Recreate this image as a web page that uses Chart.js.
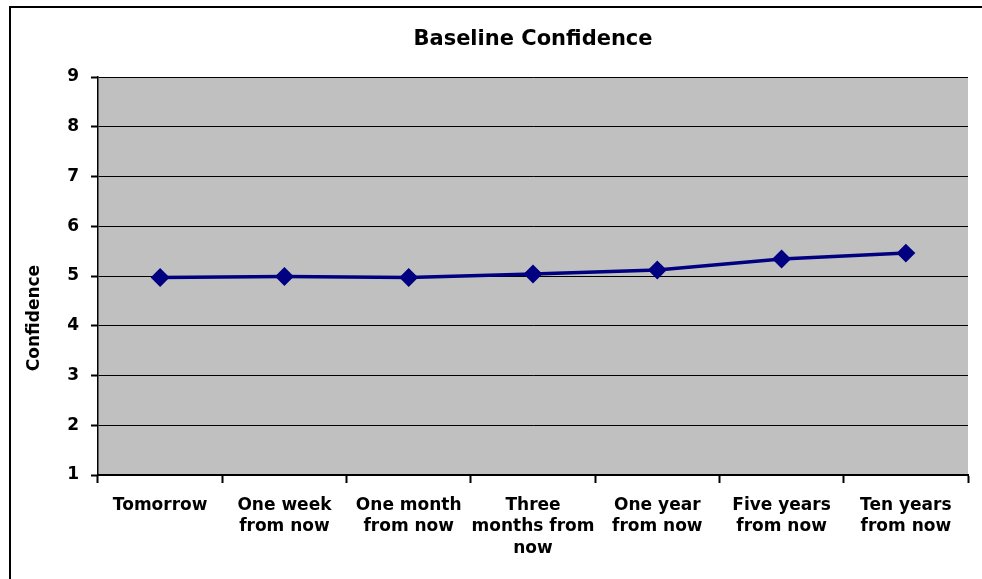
<!DOCTYPE html>
<html>
<head>
<meta charset="utf-8">
<script src="https://cdn.jsdelivr.net/npm/chart.js@4.4.0/dist/chart.umd.min.js"></script>
<style>
html,body{margin:0;padding:0;background:#fff;}
#wrap{position:relative;width:982px;height:579px;}
</style>
</head>
<body>
<div id="wrap"><canvas id="c" width="982" height="579"></canvas></div>
<script>
const categories = [
  "Tomorrow",
  ["One week", "from now"],
  ["One month", "from now"],
  ["Three", "months from", "now"],
  ["One year", "from now"],
  ["Five years", "from now"],
  ["Ten years", "from now"]
];
const confidence = [4.97, 4.99, 4.97, 5.04, 5.12, 5.34, 5.46];
const yMin = 1, yMax = 9, yStep = 1;
const chartTitle = "Baseline Confidence";
const yTitle = "Confidence";

const FONT = "'DejaVu Sans', sans-serif";

const framePlugin = {
  id: 'frame',
  beforeDraw(chart) {
    const {ctx, chartArea} = chart;
    ctx.save();
    ctx.fillStyle = '#ffffff';
    ctx.fillRect(0, 0, chart.width, chart.height);
    ctx.fillStyle = '#c0c0c0';
    ctx.fillRect(chartArea.left, chartArea.top, chartArea.right - chartArea.left, chartArea.bottom - chartArea.top);
    ctx.restore();
  },
  afterDraw(chart) {
    const {ctx} = chart;
    ctx.save();
    ctx.strokeStyle = '#000';
    ctx.lineWidth = 2;
    ctx.beginPath();
    ctx.moveTo(10, chart.height);
    ctx.lineTo(10, 7);
    ctx.lineTo(chart.width, 7);
    ctx.stroke();
    // y-axis title (placed lower than centre, as in the original)
    ctx.translate(35, 318);
    ctx.rotate(-Math.PI / 2);
    ctx.fillStyle = '#000';
    ctx.font = "bold 17px " + FONT;
    ctx.textAlign = 'center';
    ctx.textBaseline = 'middle';
    ctx.fillText(yTitle, 0, 0);
    ctx.restore();
  }
};

new Chart(document.getElementById('c'), {
  type: 'line',
  data: {
    labels: categories,
    datasets: [{
      data: confidence,
      borderColor: '#000080',
      backgroundColor: '#000080',
      borderWidth: 3.5,
      pointStyle: 'rectRot',
      pointRadius: 7,
      pointHoverRadius: 7,
      pointBackgroundColor: '#000080',
      pointBorderColor: '#000080',
      tension: 0,
      fill: false
    }]
  },
  options: {
    responsive: false,
    animation: false,
    devicePixelRatio: 1,
    layout: { padding: { left: 25, right: 14, top: 0, bottom: 0 } },
    plugins: {
      legend: { display: false },
      tooltip: { enabled: false },
      title: {
        display: true,
        fullSize: false,
        text: chartTitle,
        color: '#000',
        font: { family: FONT, size: 21, weight: 'bold', lineHeight: 1.2 },
        padding: { top: 27, bottom: 24.8 }
      }
    },
    scales: {
      x: {
        type: 'category',
        offset: true,
        grid: {
          offset: true,
          drawOnChartArea: false,
          drawTicks: true,
          tickLength: 8,
          tickColor: '#000',
          tickWidth: 2
        },
        border: { display: true, color: '#000', width: 2 },
        ticks: {
          color: '#000',
          font: { family: FONT, size: 17, weight: 'bold', lineHeight: 1.25 },
          padding: 12,
          maxRotation: 0,
          autoSkip: false
        },
        afterFit(scale) { scale.height = 104; }
      },
      y: {
        min: yMin,
        max: yMax,
        ticks: {
          stepSize: yStep,
          color: '#000',
          font: { family: FONT, size: 17, weight: 'bold' },
          padding: 12
        },
        grid: {
          color: '#000',
          lineWidth: 1,
          drawTicks: true,
          tickLength: 7,
          tickColor: '#000',
          tickWidth: 2
        },
        border: { display: true, color: '#000', width: 1.5 },
        title: { display: false },
        afterFit(scale) { scale.width = 73; }
      }
    }
  },
  plugins: [framePlugin]
});
</script>
</body>
</html>
